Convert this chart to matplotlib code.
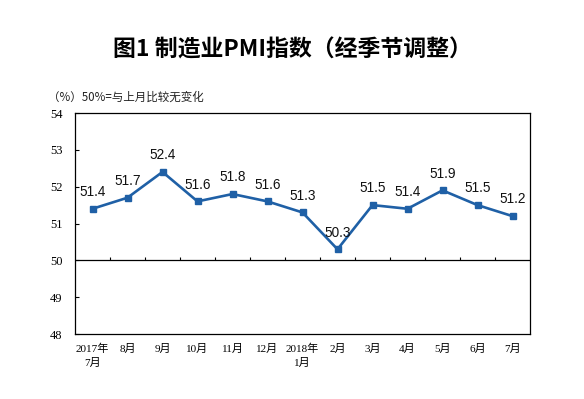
import matplotlib
matplotlib.use("Agg")
import matplotlib.pyplot as plt
import numpy as np

plt.rcParams['font.family'] = ['Noto Sans CJK SC', 'DejaVu Sans']

categories = ["2017年\n7月", "8月", "9月", "10月", "11月", "12月", "2018年\n1月",
              "2月", "3月", "4月", "5月", "6月", "7月"]
pmi = [51.4, 51.7, 52.4, 51.6, 51.8, 51.6, 51.3, 50.3, 51.5, 51.4, 51.9, 51.5, 51.2]
yticks = [48, 49, 50, 51, 52, 53, 54]
title = "图1 制造业PMI指数（经季节调整）"
subtitle = "（%）50%=与上月比较无变化"

color = '#1f60a6'

fig = plt.figure(figsize=(5.84, 3.99), dpi=100)
ax = fig.add_axes([75/584, 1-334/399, 455/584, 221/399])

x = np.arange(len(pmi))
ax.plot(x, pmi, color=color, linewidth=1.9, marker='s', markersize=4,
        markerfacecolor=color, markeredgecolor=color, zorder=3)
for xi, v in zip(x, pmi):
    ax.annotate(f"{v:.1f}", (xi, v), xytext=(0, 12), textcoords='offset points',
                ha='center', va='center', fontsize=9.8,
                family=['Liberation Sans', 'DejaVu Sans'], color='#111111')

ax.set_xlim(-0.5, len(pmi) - 0.5)
ax.set_ylim(yticks[0], yticks[-1])
ax.set_yticks(yticks)
ax.set_yticklabels([str(t) for t in yticks], family=['Liberation Serif', 'DejaVu Serif'],
                   fontsize=9)
ax.tick_params(axis='y', direction='in', length=3, width=0.8, pad=9)
ax.set_xticks(x)
ax.set_xticklabels(categories, family=['Liberation Serif', 'Noto Sans CJK SC'],
                   fontsize=8, linespacing=1.5, va='top')
ax.tick_params(axis='x', length=0, pad=7)

# 50 baseline with category separators
ax.axhline(50, color='black', linewidth=0.9, zorder=2)
ax.vlines(np.arange(0.5, len(pmi) - 1, 1), 50, 50 + 0.09, color='black', linewidth=0.8)

for s in ax.spines.values():
    s.set_linewidth(0.9)
    s.set_color('black')

fig.text(292/584, 1-50/399, title, ha='center', va='center', fontsize=16.5,
         fontweight='bold', family=['Noto Sans CJK SC', 'DejaVu Sans'])
fig.text(48/584, 1-97/399, subtitle, ha='left', va='center', fontsize=8.3,
         family=['Noto Sans CJK SC', 'DejaVu Sans'], color='#222222')

fig.savefig("out.png", dpi=100)
